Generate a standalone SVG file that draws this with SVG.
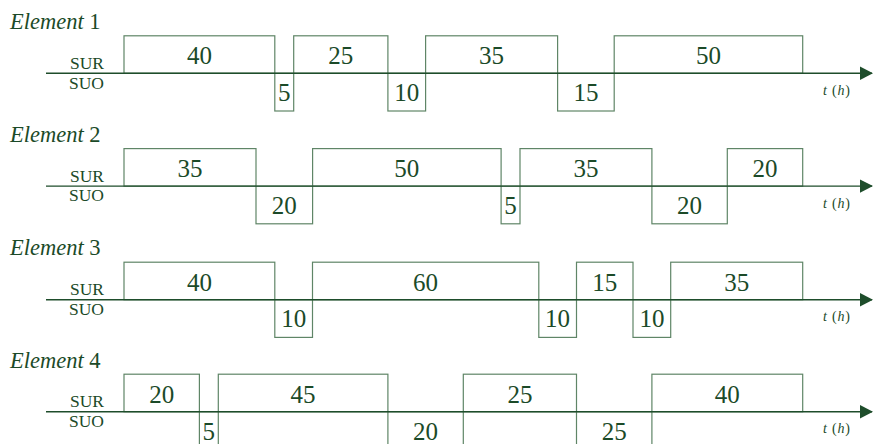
<svg xmlns="http://www.w3.org/2000/svg" width="875" height="444" viewBox="0 0 875 444">
<style>
text{fill:#1b4a28;font-family:'Liberation Serif','Times New Roman',serif}
.t{font-size:22.5px}
.n{font-size:25px;text-anchor:middle}
.s{font-size:17.5px;text-anchor:end}
.u{font-size:14px;letter-spacing:0.8px}
.b{fill:none;stroke:#5f8567;stroke-width:1.2}
.ax{stroke:#1e4d2b;stroke-width:1.4;fill:none}
</style>
<defs>
<marker id="arr" markerUnits="userSpaceOnUse" markerWidth="16" markerHeight="16" refX="12" refY="7" orient="auto" viewBox="0 0 16 14">
<path d="M0,0.3 L13,7 L0,13.7 Z" fill="#1e4d2b"/>
</marker>
</defs>
<rect width="875" height="444" fill="#fff"/>

<g id="element1">
<text class="t" x="10" y="29"><tspan font-style="italic">Element</tspan> 1</text>
<text class="s" x="104" y="69">SUR</text>
<text class="s" x="104" y="88.5">SUO</text>
<rect class="b" x="124" y="35.8" width="150.8" height="37.5"/>
<rect class="b" x="274.8" y="73.3" width="18.9" height="37.7"/>
<rect class="b" x="293.7" y="35.8" width="94.2" height="37.5"/>
<rect class="b" x="387.9" y="73.3" width="37.7" height="37.7"/>
<rect class="b" x="425.6" y="35.8" width="132" height="37.5"/>
<rect class="b" x="557.6" y="73.3" width="56.6" height="37.7"/>
<rect class="b" x="614.2" y="35.8" width="188.5" height="37.5"/>
<text class="n" x="199.4" y="64.3">40</text>
<text class="n" x="284.3" y="101">5</text>
<text class="n" x="340.8" y="64.3">25</text>
<text class="n" x="406.8" y="101">10</text>
<text class="n" x="491.6" y="64.3">35</text>
<text class="n" x="585.9" y="101">15</text>
<text class="n" x="708.5" y="64.3">50</text>
<text class="u" x="823" y="95"><tspan font-style="italic">t</tspan> (<tspan font-style="italic">h</tspan>)</text>
</g>

<g id="element2">
<text class="t" x="10" y="141.7"><tspan font-style="italic">Element</tspan> 2</text>
<text class="s" x="104" y="181.8">SUR</text>
<text class="s" x="104" y="201.3">SUO</text>
<rect class="b" x="124" y="148.6" width="132" height="37.5"/>
<rect class="b" x="256" y="186.1" width="56.6" height="37.7"/>
<rect class="b" x="312.6" y="148.6" width="188.5" height="37.5"/>
<rect class="b" x="501.1" y="186.1" width="18.9" height="37.7"/>
<rect class="b" x="520" y="148.6" width="131.9" height="37.5"/>
<rect class="b" x="651.9" y="186.1" width="75.4" height="37.7"/>
<rect class="b" x="727.3" y="148.6" width="75.4" height="37.5"/>
<text class="n" x="190" y="177.1">35</text>
<text class="n" x="284.3" y="213.8">20</text>
<text class="n" x="406.8" y="177.1">50</text>
<text class="n" x="510.5" y="213.8">5</text>
<text class="n" x="586" y="177.1">35</text>
<text class="n" x="689.6" y="213.8">20</text>
<text class="n" x="765" y="177.1">20</text>
<text class="u" x="823" y="207.8"><tspan font-style="italic">t</tspan> (<tspan font-style="italic">h</tspan>)</text>
</g>

<g id="element3">
<text class="t" x="10" y="255.3"><tspan font-style="italic">Element</tspan> 3</text>
<text class="s" x="104" y="295.4">SUR</text>
<text class="s" x="104" y="314.9">SUO</text>
<rect class="b" x="124" y="262.2" width="150.8" height="37.5"/>
<rect class="b" x="274.8" y="299.7" width="37.7" height="37.7"/>
<rect class="b" x="312.5" y="262.2" width="226.3" height="37.5"/>
<rect class="b" x="538.8" y="299.7" width="37.7" height="37.7"/>
<rect class="b" x="576.5" y="262.2" width="56.5" height="37.5"/>
<rect class="b" x="633" y="299.7" width="37.7" height="37.7"/>
<rect class="b" x="670.7" y="262.2" width="132" height="37.5"/>
<text class="n" x="199.4" y="290.7">40</text>
<text class="n" x="293.7" y="327.4">10</text>
<text class="n" x="425.6" y="290.7">60</text>
<text class="n" x="557.6" y="327.4">10</text>
<text class="n" x="604.8" y="290.7">15</text>
<text class="n" x="651.9" y="327.4">10</text>
<text class="n" x="736.7" y="290.7">35</text>
<text class="u" x="823" y="321.4"><tspan font-style="italic">t</tspan> (<tspan font-style="italic">h</tspan>)</text>
</g>

<g id="element4">
<text class="t" x="10" y="368"><tspan font-style="italic">Element</tspan> 4</text>
<text class="s" x="104" y="407.4">SUR</text>
<text class="s" x="104" y="426.9">SUO</text>
<rect class="b" x="124" y="374.2" width="75.4" height="37.5"/>
<rect class="b" x="199.4" y="411.7" width="18.9" height="37.7"/>
<rect class="b" x="218.3" y="374.2" width="169.6" height="37.5"/>
<rect class="b" x="387.9" y="411.7" width="75.4" height="37.7"/>
<rect class="b" x="463.3" y="374.2" width="113.2" height="37.5"/>
<rect class="b" x="576.5" y="411.7" width="75.4" height="37.7"/>
<rect class="b" x="651.9" y="374.2" width="150.8" height="37.5"/>
<text class="n" x="161.7" y="402.7">20</text>
<text class="n" x="208.8" y="439.5">5</text>
<text class="n" x="303.1" y="402.7">45</text>
<text class="n" x="425.6" y="439.5">20</text>
<text class="n" x="519.9" y="402.7">25</text>
<text class="n" x="614.2" y="439.5">25</text>
<text class="n" x="727.3" y="402.7">40</text>
<text class="u" x="823" y="433.4"><tspan font-style="italic">t</tspan> (<tspan font-style="italic">h</tspan>)</text>
</g>

<g id="connectors">
<line class="ax" x1="46" y1="73.3" x2="872" y2="73.3" marker-end="url(#arr)"/>
<line class="ax" x1="46" y1="186.1" x2="872" y2="186.1" marker-end="url(#arr)"/>
<line class="ax" x1="46" y1="299.7" x2="872" y2="299.7" marker-end="url(#arr)"/>
<line class="ax" x1="46" y1="411.7" x2="872" y2="411.7" marker-end="url(#arr)"/>
</g>
</svg>
